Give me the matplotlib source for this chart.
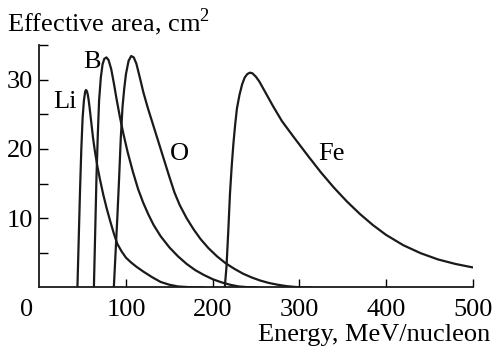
import matplotlib
matplotlib.use("Agg")
import matplotlib.pyplot as plt

plt.rcParams['font.family'] = ['Liberation Serif', 'DejaVu Serif']
plt.rcParams['mathtext.fontset'] = 'custom'
plt.rcParams['mathtext.rm'] = 'Liberation Serif'

# Data (energy in MeV/nucleon, effective area in cm^2)
li_energy = [44, 45.5, 47, 48.5, 50, 51.5, 53, 54, 55, 56, 57, 58, 60, 62, 64, 67, 70, 74, 78, 82, 86, 90, 95,
             100, 106, 112, 120, 130, 140, 150, 160, 175, 190]
li_area = [0, 7, 14, 20, 24.5, 27, 28.3, 28.5, 28.3, 27.8, 27.0, 26.0, 23.8, 21.6, 19.8, 17.5, 15.6, 13.3, 11.3,
           9.5, 7.8, 6.3, 5.2, 4.3, 3.6, 3.0, 2.3, 1.5, 0.8, 0.4, 0.15, 0.03, 0]

b_energy = [63, 64.5, 66, 67.5, 69, 71, 73, 75, 77.5, 80, 83, 86, 89, 93, 97, 102, 108, 114, 120, 126, 132, 140,
            150, 160, 170, 180, 190, 200, 210, 220, 230, 240, 250]
b_area = [0, 8, 16, 22, 27, 30.3, 32.2, 33, 33.2, 32.8, 31.5, 29.5, 27.3, 24.6, 22.2, 19.5, 16.7, 14.2, 12.2,
          10.5, 9.0, 7.4, 5.8, 4.5, 3.4, 2.5, 1.8, 1.2, 0.75, 0.4, 0.15, 0.05, 0]

o_energy = [86, 88, 90, 92, 94, 96, 98, 100, 103, 106, 109, 112, 116, 120, 125, 130, 135, 140, 145, 150, 156, 162,
            170, 178, 186, 195, 205, 215, 225, 235, 245, 255, 265, 275, 285, 295, 305, 315]
o_area = [0, 5, 10, 15.5, 21.5, 26, 28.7, 30.8, 32.7, 33.4, 33.2, 32.3, 30.3, 28.2, 26.0, 24.0, 22.0, 20.0, 18.0,
          16.0, 13.7, 11.9, 10.0, 8.4, 7.0, 5.7, 4.5, 3.5, 2.7, 2.0, 1.45, 1.0, 0.65, 0.4, 0.2, 0.08, 0.02, 0]

fe_energy = [214, 216, 218, 220, 222, 224, 226, 228, 231, 234, 237, 240, 243, 246, 250, 254, 258, 262, 270, 280,
             293, 310, 325, 340, 355, 370, 385, 400, 420, 440, 460, 480, 500]
fe_area = [0, 3, 8, 13.5, 17.5, 20.8, 23.5, 25.8, 27.8, 29.3, 30.3, 30.8, 31.0, 30.9, 30.4, 29.7, 28.8, 27.9, 26.1,
           24.0, 21.8, 19.0, 16.6, 14.4, 12.4, 10.6, 9.0, 7.6, 6.1, 4.95, 4.05, 3.4, 2.9]

x_ticks = [100, 200, 300, 400, 500]
y_ticks = [5, 10, 15, 20, 25, 30, 35]
y_tick_labels = ['', '10', '', '20', '', '30', '']

fig = plt.figure(figsize=(4.93, 3.5), dpi=100)
ax = fig.add_axes([0.0797, 0.1786, 0.879, 0.693])

for e, a in [(li_energy, li_area), (b_energy, b_area), (o_energy, o_area), (fe_energy, fe_area)]:
    ax.plot(e, a, color='#1a1a1a', lw=1.6, solid_joinstyle='round', solid_capstyle='round')

ax.set_xlim(0, 500)
ax.set_ylim(0, 35)
ax.spines['top'].set_visible(False)
ax.spines['right'].set_visible(False)
for s in ['left', 'bottom']:
    ax.spines[s].set_linewidth(1.3)
    ax.spines[s].set_color('#1a1a1a')

fs = 19
ax.set_xticks(x_ticks)
ax.set_xticklabels([str(t) for t in x_ticks])
ax.set_yticks(y_ticks)
ax.set_yticklabels(y_tick_labels)
ax.tick_params(axis='x', direction='in', length=6, width=1.0, pad=8, labelsize=fs)
ax.tick_params(axis='y', direction='in', length=6.5, width=1.0, pad=4.3, labelsize=fs)
ax.text(-15, -1.7, '0', ha='center', va='top', fontsize=fs, clip_on=False)

ax.text(15.8, 25.9, 'Li', ha='left', va='baseline', fontsize=fs)
ax.text(50.4, 31.7, 'B', ha='left', va='baseline', fontsize=fs)
ax.text(150.8, 18.4, 'O', ha='left', va='baseline', fontsize=fs)
ax.text(321.8, 18.4, 'Fe', ha='left', va='baseline', fontsize=fs)

fig.text(7 / 493, 1 - 31 / 350, 'Effective area, cm$^2$', ha='left', va='baseline', fontsize=fs)
fig.text(490 / 493, 1 - 341 / 350, 'Energy, MeV/nucleon', ha='right', va='baseline', fontsize=fs)

fig.savefig('out.png', dpi=100)
